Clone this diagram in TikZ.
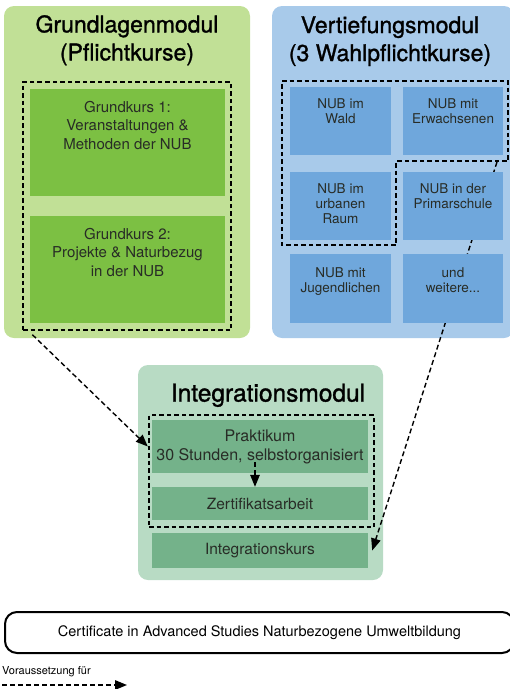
\documentclass[tikz,border=0pt]{standalone}
\usepackage{fontspec}
\setmainfont{TeX Gyre Heros}
\newfontfamily\titlefont[FakeBold=1.2]{TeX Gyre Heros}
\usetikzlibrary{arrows.meta}

\definecolor{grundbg}{RGB}{193,224,150}
\definecolor{grundkurs}{RGB}{124,192,67}
\definecolor{vertbg}{RGB}{168,202,234}
\definecolor{vertkurs}{RGB}{111,167,220}
\definecolor{integbg}{RGB}{184,219,196}
\definecolor{integkurs}{RGB}{116,178,138}
\definecolor{txtgray}{RGB}{40,44,38}

\begin{document}
\begin{tikzpicture}[x=1pt,y=1pt,yscale=-1,
    modul/.style={rounded corners=10pt, inner sep=0pt},
    kurs/.style={inner sep=0pt, text=txtgray},
    dashframe/.style={draw=black, dash pattern=on 4.5pt off 3pt, line width=1.3pt, inner sep=0pt},
    title/.style={inner sep=0pt, anchor=north, align=center, text=black, font=\titlefont\fontsize{23}{28}\selectfont},
    gktext/.style={inner sep=0pt, anchor=north, align=center, text=txtgray, font=\fontsize{15}{18.5}\selectfont},
    nubtext/.style={inner sep=0pt, anchor=north, align=center, text=txtgray, font=\fontsize{13.5}{15}\selectfont},
    prereq/.style={line width=1.4pt, dash pattern=on 5pt off 3pt, -{Triangle[length=12pt,width=9.5pt]}}]
    \useasboundingbox (0,0) rectangle (510,689);

    % Modules
    \node[modul, fill=grundbg, minimum width=246pt, minimum height=332pt] (grund) at (127,172) {};
    \node[modul, fill=vertbg, minimum width=242pt, minimum height=332pt] (vert) at (393,172) {};
    \node[modul, fill=integbg, minimum width=245pt, minimum height=215pt] (integ) at (260.5,472.5) {};

    % Text Node
    \node[title] (grund-t) at (127,15) {Grundlagenmodul\\(Pflichtkurse)};
    % Text Node
    \node[title] (vert-t) at (390,16) {Vertiefungsmodul\\(3 Wahlpflichtkurse)};
    % Text Node
    \node[title, font=\titlefont\fontsize{24.5}{28}\selectfont] (integ-t) at (268,383.5) {Integrationsmodul};

    % Arrow Vertiefung -> Integrationskurs (runs under the courses)
    \coordinate (vert-out) at (497,162);
    \node[kurs, minimum width=216pt, minimum height=35pt] (ikurs) at (260,550.5) {};
    \draw[prereq] (vert-out) -- ([xshift=4pt]ikurs.east);

    % Grundkurse
    \node[kurs, fill=grundkurs, minimum width=195pt, minimum height=107pt] (gk1) at (127.5,142.5) {};
    \node[kurs, fill=grundkurs, minimum width=195pt, minimum height=107pt] (gk2) at (127.5,269.5) {};
    \node[gktext] (gk1-t) at (127.5,101) {Grundkurs 1:\\Veranstaltungen \&\\Methoden der NUB};
    \node[gktext] (gk2-t) at (127.5,228) {Grundkurs 2:\\Projekte \& Naturbezug\\in der NUB};
    \node[dashframe, minimum width=208pt, minimum height=248pt] (grund-f) at (127,206) {};

    % Wahlpflichtkurse
    \node[kurs, fill=vertkurs, minimum width=101pt, minimum height=68pt] (wald) at (340.5,121) {};
    \node[kurs, fill=vertkurs, minimum width=100pt, minimum height=68pt] (erw) at (453,121) {};
    \node[kurs, fill=vertkurs, minimum width=101pt, minimum height=68pt] (urban) at (340.5,206) {};
    \node[kurs, fill=vertkurs, minimum width=100pt, minimum height=68pt] (prim) at (453,206) {};
    \node[kurs, fill=vertkurs, minimum width=101pt, minimum height=69pt] (jug) at (340.5,288.5) {};
    \node[kurs, fill=vertkurs, minimum width=100pt, minimum height=69pt] (weit) at (453,288.5) {};
    \node[nubtext] (wald-t) at (340.5,98) {NUB im\\Wald};
    \node[nubtext] (erw-t) at (453,98) {NUB mit\\Erwachsenen};
    \node[nubtext] (urban-t) at (340.5,183) {NUB im\\urbanen\\Raum};
    \node[nubtext] (prim-t) at (453,183) {NUB in der\\Primarschule};
    \node[nubtext] (jug-t) at (340.5,267) {NUB mit\\Jugendlichen};
    \node[nubtext] (weit-t) at (453,267) {und\\weitere...};
    %Shape: Polygon
    \draw[dashframe] (282,81) -- (508,81) -- (508,161) -- (396,161) -- (396,245) -- (282,245) -- cycle;

    % Integration
    \node[kurs, fill=integkurs, minimum width=216pt, minimum height=53pt, align=center, font=\fontsize{16}{19}\selectfont] (prak) at (260,446.5) {Praktikum\\30 Stunden, selbstorganisiert};
    \node[kurs, fill=integkurs, minimum width=216pt, minimum height=33pt, font=\fontsize{15.5}{18}\selectfont] (zert) at (260,503.5) {Zertifikatsarbeit};
    \node[kurs, fill=integkurs, minimum width=216pt, minimum height=35pt, font=\fontsize{15.5}{18}\selectfont] at (ikurs) {Integrationskurs};
    \node[dashframe, minimum width=225pt, minimum height=112pt] (integ-f) at (261.5,471) {};

    \draw[prereq] ([shift={(10,4)}]grund-f.south west) -- ([xshift=-4pt]prak.west);
    \draw[prereq] ([shift={(-5,-11)}]prak.south) -- ([xshift=-5pt]zert.north);

    % Certificate
    \node[draw=black, line width=2pt, rounded corners=12pt, minimum width=509pt, minimum height=41pt, inner sep=0pt, font=\fontsize{14.5}{17}\selectfont] (cert) at (259.5,632.5) {Certificate in Advanced Studies Naturbezogene Umweltbildung};

    % Legend
    \node[inner sep=0pt, anchor=base west, font=\fontsize{11}{13}\selectfont] (leg-t) at (2,674) {Voraussetzung für};
    \coordinate (leg-a) at (2,685);
    \coordinate (leg-b) at (127,685);
    \draw[prereq] (leg-a) -- (leg-b);

\end{tikzpicture}
\end{document}
